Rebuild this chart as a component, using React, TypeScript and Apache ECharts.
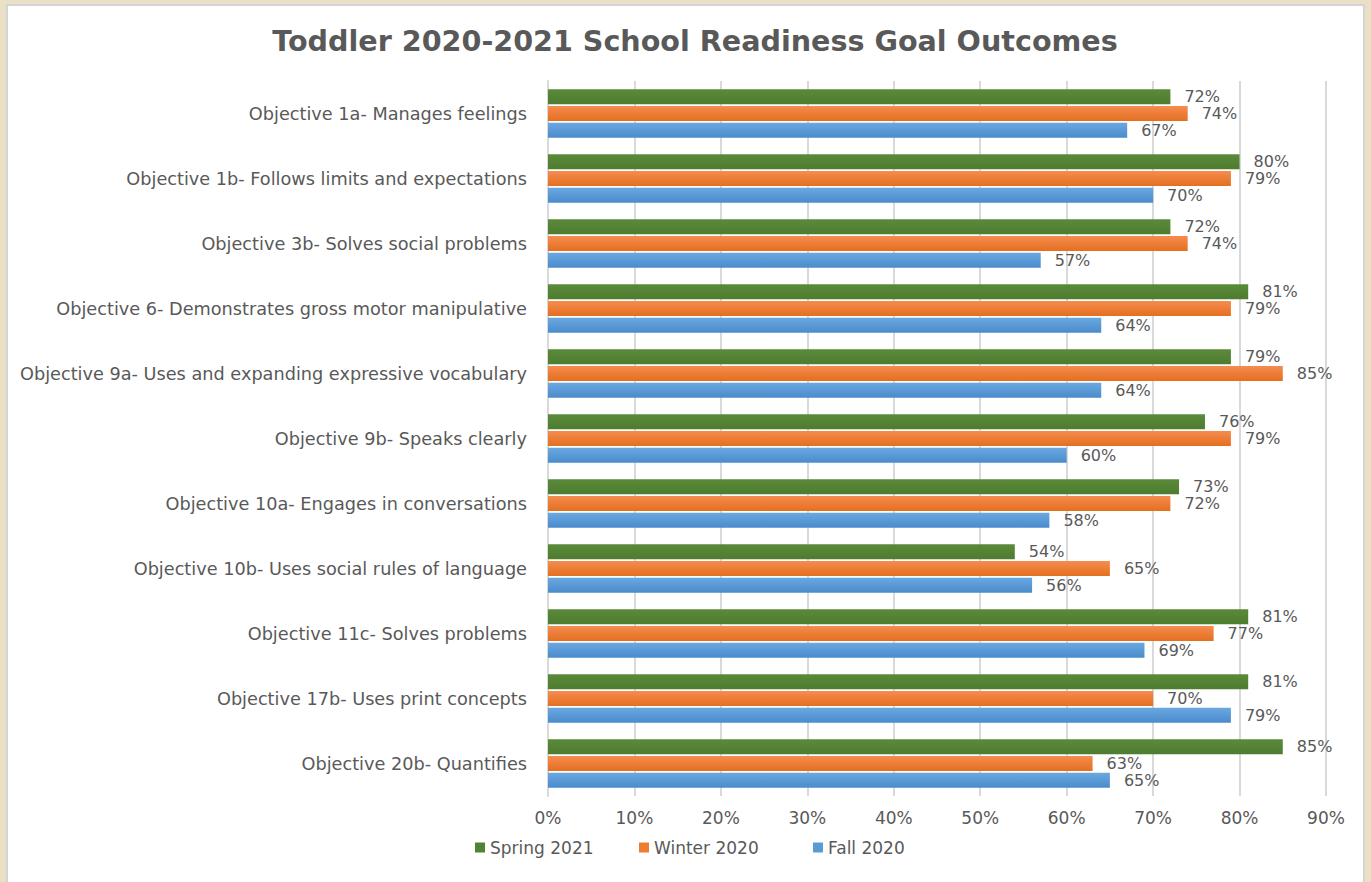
import React, { useEffect, useRef } from "react";
import * as echarts from "echarts";

const categories = [
  "Objective 1a- Manages feelings",
  "Objective 1b- Follows limits and expectations",
  "Objective 3b- Solves social problems",
  "Objective 6- Demonstrates gross motor manipulative",
  "Objective 9a- Uses and expanding expressive vocabulary",
  "Objective 9b- Speaks clearly",
  "Objective 10a- Engages in conversations",
  "Objective 10b- Uses social rules of language",
  "Objective 11c- Solves problems",
  "Objective 17b- Uses print concepts",
  "Objective 20b- Quantifies",
];

const spring2021 = [72, 80, 72, 81, 79, 76, 73, 54, 81, 81, 85];
const winter2020 = [74, 79, 74, 79, 85, 79, 72, 65, 77, 70, 63];
const fall2020 = [67, 70, 57, 64, 64, 60, 58, 56, 69, 79, 65];

const seriesNames = ["Spring 2021", "Winter 2020", "Fall 2020"];
const xTicks = [0, 10, 20, 30, 40, 50, 60, 70, 80, 90];

const FONT = "'DejaVu Sans', sans-serif";
const GRAY = "#595959";

function grad(top: string, bottom: string) {
  return new echarts.graphic.LinearGradient(0, 0, 0, 1, [
    { offset: 0, color: top },
    { offset: 1, color: bottom },
  ]);
}

export default function App() {
  const ref = useRef<HTMLDivElement>(null);
  useEffect(() => {
    if (!ref.current) return;
    const chart = echarts.init(ref.current, undefined, { renderer: "svg" });
    const colors = [
      grad("#5a8a3a", "#4e7c30"),
      grad("#f58c50", "#e46f1f"),
      grad("#6aa8e0", "#4a8bcc"),
    ];
    const solid = ["#548235", "#ED7D31", "#5B9BD5"];
    const data = [spring2021, winter2020, fall2020];
    const legendLefts = [470, 634, 808];
    chart.setOption({
      animation: false,
      backgroundColor: "#e9e0c6",
      graphic: [
        {
          type: "rect",
          z: -10,
          shape: { x: 7, y: 5, width: 1357, height: 890 },
          style: { fill: "#ffffff", stroke: "#d4d4d4", lineWidth: 2 },
        },
      ],
      title: {
        text: "Toddler 2020-2021 School Readiness Goal Outcomes",
        left: 690,
        textAlign: "center",
        top: 21,
        textStyle: {
          fontFamily: FONT,
          fontSize: 28.6,
          fontWeight: "bold",
          color: GRAY,
        },
      },
      legend: seriesNames.map((n, i) => ({
        data: [{ name: n, itemStyle: { color: solid[i] } }],
        left: legendLefts[i],
        top: 834,
        itemWidth: 10,
        itemHeight: 10,
        itemGap: 6,
        icon: "rect",
        textStyle: { fontFamily: FONT, fontSize: 17, color: GRAY },
      })),
      grid: { left: 548, top: 81, width: 778, height: 715, containLabel: false },
      xAxis: {
        type: "value",
        min: 0,
        max: 90,
        interval: 10,
        axisLine: { show: false },
        axisTick: { show: false },
        splitLine: { show: true, lineStyle: { color: "#d9d9d9", width: 2 } },
        axisLabel: {
          formatter: (v: number) => (xTicks.includes(v) ? v + "%" : ""),
          fontFamily: FONT,
          fontSize: 17,
          color: GRAY,
          margin: 13,
        },
      },
      yAxis: {
        type: "category",
        data: categories,
        inverse: true,
        axisLine: { show: true, lineStyle: { color: "#d9d9d9", width: 2 } },
        axisTick: { show: false },
        axisLabel: {
          fontFamily: FONT,
          fontSize: 17.7,
          color: GRAY,
          margin: 21,
        },
      },
      series: seriesNames.map((n, i) => ({
        name: n,
        type: "bar",
        data: data[i],
        barWidth: 15,
        barGap: "12%",
        itemStyle: { color: colors[i] },
        label: {
          show: true,
          position: "right",
          distance: 14,
          formatter: "{c}%",
          fontFamily: FONT,
          fontSize: 16,
          lineHeight: 15,
          color: GRAY,
        },
      })),
    });
    return () => chart.dispose();
  }, []);
  return (
    <div
      ref={ref}
      style={{ position: "fixed", left: 0, top: 0, width: 1371, height: 882 }}
    />
  );
}
